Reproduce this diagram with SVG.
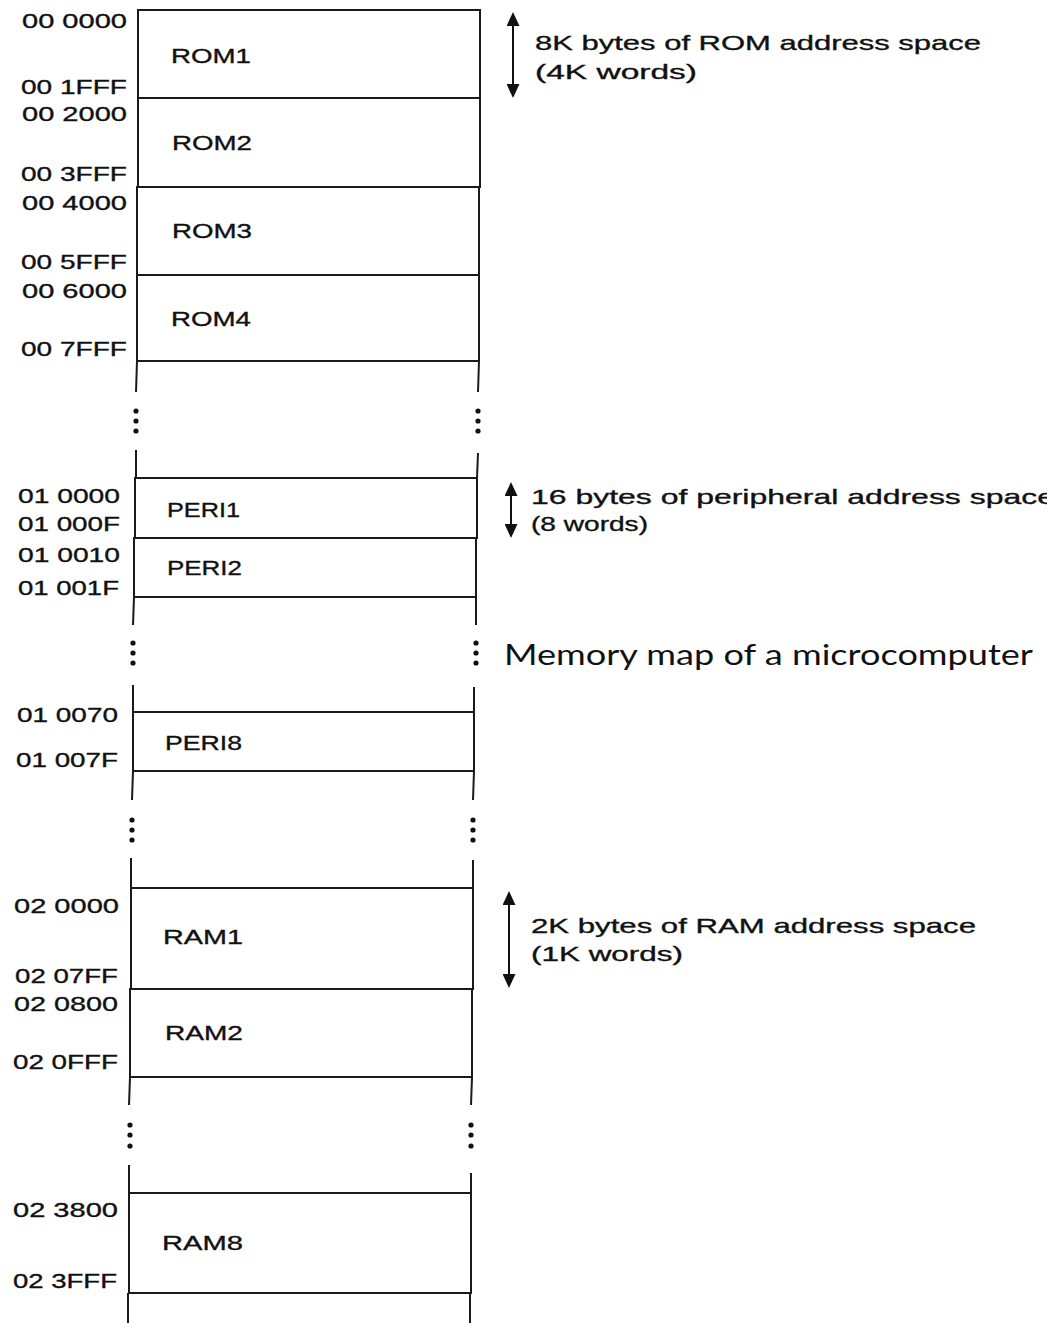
<svg xmlns="http://www.w3.org/2000/svg" width="1047" height="1323" viewBox="0 0 1047 1323">
<style>
.blk{fill:none;stroke:#1a1a1a;stroke-width:2}
.ext{stroke:#1a1a1a;stroke-width:2}
.dot{fill:#111}
.t{font-family:"Liberation Sans",Arial,sans-serif;font-size:21px;fill:#111;stroke:#111;stroke-width:0.35}
.cap{font-family:Lato,"Open Sans",sans-serif;font-size:28px;fill:#111}
.arr{stroke:#111;stroke-width:2;fill:none;marker-start:url(#ah);marker-end:url(#ah)}
</style>
<defs>
<marker id="ah" viewBox="0 0 14 13" refX="12" refY="6.5" markerWidth="14" markerHeight="13" markerUnits="userSpaceOnUse" orient="auto-start-reverse">
<path d="M0,0 L14,6.5 L0,13 Z" fill="#111"/>
</marker>
</defs>
<rect width="1047" height="1323" fill="#fff"/>

<g id="frame">
<line class="ext" x1="137" y1="361" x2="136" y2="392"/>
<line class="ext" x1="479" y1="361" x2="478" y2="392"/>
<line class="ext" x1="136" y1="450" x2="136" y2="478"/>
<line class="ext" x1="478" y1="453" x2="477" y2="478"/>
<line class="ext" x1="134" y1="597" x2="133" y2="625"/>
<line class="ext" x1="476" y1="597" x2="476" y2="625"/>
<line class="ext" x1="133" y1="685" x2="133" y2="712"/>
<line class="ext" x1="474" y1="687" x2="474" y2="712"/>
<line class="ext" x1="133" y1="771" x2="132" y2="800"/>
<line class="ext" x1="474" y1="771" x2="473" y2="800"/>
<line class="ext" x1="131" y1="858" x2="131" y2="888"/>
<line class="ext" x1="473" y1="860" x2="473" y2="888"/>
<line class="ext" x1="130" y1="1077" x2="129" y2="1105"/>
<line class="ext" x1="472" y1="1077" x2="471" y2="1105"/>
<line class="ext" x1="129" y1="1165" x2="129" y2="1193"/>
<line class="ext" x1="471" y1="1173" x2="471" y2="1193"/>
<line class="ext" x1="128" y1="1293" x2="128" y2="1323"/>
<line class="ext" x1="470" y1="1293" x2="470" y2="1323"/>
</g>

<g id="ellipses">
<circle class="dot" cx="136" cy="411" r="2.6"/><circle class="dot" cx="136" cy="421" r="2.6"/><circle class="dot" cx="136" cy="431" r="2.6"/>
<circle class="dot" cx="478" cy="411" r="2.6"/><circle class="dot" cx="478" cy="421" r="2.6"/><circle class="dot" cx="478" cy="431" r="2.6"/>
<circle class="dot" cx="133" cy="643" r="2.6"/><circle class="dot" cx="133" cy="653" r="2.6"/><circle class="dot" cx="133" cy="663" r="2.6"/>
<circle class="dot" cx="476" cy="643" r="2.6"/><circle class="dot" cx="476" cy="653" r="2.6"/><circle class="dot" cx="476" cy="663" r="2.6"/>
<circle class="dot" cx="132" cy="820" r="2.6"/><circle class="dot" cx="132" cy="830" r="2.6"/><circle class="dot" cx="132" cy="840" r="2.6"/>
<circle class="dot" cx="473" cy="820" r="2.6"/><circle class="dot" cx="473" cy="830" r="2.6"/><circle class="dot" cx="473" cy="840" r="2.6"/>
<circle class="dot" cx="130" cy="1125" r="2.6"/><circle class="dot" cx="130" cy="1135" r="2.6"/><circle class="dot" cx="130" cy="1146" r="2.6"/>
<circle class="dot" cx="471" cy="1125" r="2.6"/><circle class="dot" cx="471" cy="1135" r="2.6"/><circle class="dot" cx="471" cy="1146" r="2.6"/>
</g>

<g id="ROM1">
<rect class="blk" x="138" y="10" width="342" height="88"/>
<text class="t" x="22" y="28" textLength="105" lengthAdjust="spacingAndGlyphs">00 0000</text>
<text class="t" x="171" y="63" textLength="80" lengthAdjust="spacingAndGlyphs">ROM1</text>
<text class="t" x="21" y="94" textLength="106" lengthAdjust="spacingAndGlyphs">00 1FFF</text>
</g>
<g id="ROM2">
<rect class="blk" x="138" y="98" width="342" height="89"/>
<text class="t" x="22" y="121" textLength="105" lengthAdjust="spacingAndGlyphs">00 2000</text>
<text class="t" x="172" y="150" textLength="80" lengthAdjust="spacingAndGlyphs">ROM2</text>
<text class="t" x="21" y="181" textLength="106" lengthAdjust="spacingAndGlyphs">00 3FFF</text>
</g>
<g id="ROM3">
<rect class="blk" x="137" y="187" width="342" height="88"/>
<text class="t" x="22" y="210" textLength="105" lengthAdjust="spacingAndGlyphs">00 4000</text>
<text class="t" x="172" y="238" textLength="80" lengthAdjust="spacingAndGlyphs">ROM3</text>
<text class="t" x="21" y="269" textLength="106" lengthAdjust="spacingAndGlyphs">00 5FFF</text>
</g>
<g id="ROM4">
<rect class="blk" x="137" y="275" width="342" height="86"/>
<text class="t" x="22" y="298" textLength="105" lengthAdjust="spacingAndGlyphs">00 6000</text>
<text class="t" x="171" y="326" textLength="80" lengthAdjust="spacingAndGlyphs">ROM4</text>
<text class="t" x="21" y="356" textLength="106" lengthAdjust="spacingAndGlyphs">00 7FFF</text>
</g>

<g id="PERI1">
<rect class="blk" x="135" y="478" width="342" height="60"/>
<text class="t" x="18" y="503" textLength="102" lengthAdjust="spacingAndGlyphs">01 0000</text>
<text class="t" x="167" y="517" textLength="73" lengthAdjust="spacingAndGlyphs">PERI1</text>
<text class="t" x="18" y="531" textLength="102" lengthAdjust="spacingAndGlyphs">01 000F</text>
</g>
<g id="PERI2">
<rect class="blk" x="134" y="538" width="342" height="59"/>
<text class="t" x="18" y="562" textLength="102" lengthAdjust="spacingAndGlyphs">01 0010</text>
<text class="t" x="167" y="575" textLength="75" lengthAdjust="spacingAndGlyphs">PERI2</text>
<text class="t" x="18" y="595" textLength="101" lengthAdjust="spacingAndGlyphs">01 001F</text>
</g>
<g id="PERI8">
<rect class="blk" x="133" y="712" width="341" height="59"/>
<text class="t" x="17" y="722" textLength="101" lengthAdjust="spacingAndGlyphs">01 0070</text>
<text class="t" x="165" y="750" textLength="77" lengthAdjust="spacingAndGlyphs">PERI8</text>
<text class="t" x="16" y="767" textLength="102" lengthAdjust="spacingAndGlyphs">01 007F</text>
</g>

<g id="RAM1">
<rect class="blk" x="131" y="888" width="342" height="101"/>
<text class="t" x="14" y="913" textLength="105" lengthAdjust="spacingAndGlyphs">02 0000</text>
<text class="t" x="163" y="944" textLength="80" lengthAdjust="spacingAndGlyphs">RAM1</text>
<text class="t" x="15" y="983" textLength="103" lengthAdjust="spacingAndGlyphs">02 07FF</text>
</g>
<g id="RAM2">
<rect class="blk" x="130" y="989" width="342" height="88"/>
<text class="t" x="14" y="1011" textLength="104" lengthAdjust="spacingAndGlyphs">02 0800</text>
<text class="t" x="165" y="1040" textLength="78" lengthAdjust="spacingAndGlyphs">RAM2</text>
<text class="t" x="13" y="1069" textLength="105" lengthAdjust="spacingAndGlyphs">02 0FFF</text>
</g>
<g id="RAM8">
<rect class="blk" x="129" y="1193" width="342" height="100"/>
<text class="t" x="13" y="1217" textLength="105" lengthAdjust="spacingAndGlyphs">02 3800</text>
<text class="t" x="162" y="1250" textLength="81" lengthAdjust="spacingAndGlyphs">RAM8</text>
<text class="t" x="13" y="1288" textLength="104" lengthAdjust="spacingAndGlyphs">02 3FFF</text>
</g>

<g id="connectors">
<line class="arr" x1="513" y1="14" x2="513" y2="96"/>
<line class="arr" x1="511" y1="484" x2="511" y2="536"/>
<line class="arr" x1="509" y1="893" x2="509" y2="986"/>
</g>

<g id="notes">
<text class="t" x="535" y="50" textLength="446" lengthAdjust="spacingAndGlyphs">8K bytes of ROM address space</text>
<text class="t" x="535" y="79" textLength="162" lengthAdjust="spacingAndGlyphs">(4K words)</text>
<text class="t" x="531" y="504" textLength="524" lengthAdjust="spacingAndGlyphs">16 bytes of peripheral address space</text>
<text class="t" x="531" y="531" textLength="117" lengthAdjust="spacingAndGlyphs">(8 words)</text>
<text class="t" x="531" y="933" textLength="445" lengthAdjust="spacingAndGlyphs">2K bytes of RAM address space</text>
<text class="t" x="531" y="961" textLength="152" lengthAdjust="spacingAndGlyphs">(1K words)</text>
<text class="cap" x="504" y="665" textLength="529" lengthAdjust="spacingAndGlyphs">Memory map of a microcomputer</text>
</g>
</svg>
